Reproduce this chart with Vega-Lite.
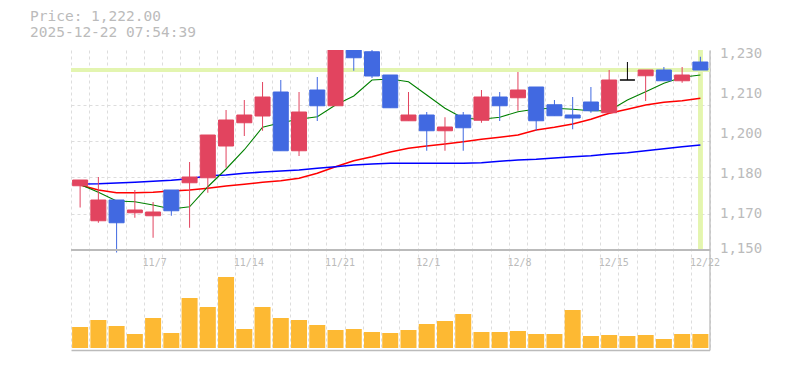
{
  "$schema": "https://vega.github.io/schema/vega-lite/v6.json",
  "width": 638.5,
  "height": 300,
  "autosize": "none",
  "padding": {"left": 71, "top": 50, "right": 75.5, "bottom": 20},
  "background": "white",
  "config": {"view": {"stroke": null}, "font": "DejaVu Sans Mono"},
  "title": {
    "text": "Price: 1,222.00",
    "subtitle": "2025-12-22 07:54:39",
    "anchor": "start",
    "frame": "group",
    "dx": -41,
    "offset": 6,
    "font": "DejaVu Sans Mono",
    "fontSize": 14.5,
    "fontWeight": "normal",
    "color": "#bbbbbb",
    "subtitleFont": "DejaVu Sans Mono",
    "subtitleFontSize": 14.5,
    "subtitleColor": "#bbbbbb",
    "subtitlePadding": 1
  },
  "data": {
    "values": [
      {"date": "2025-10-31", "open": 1175.7, "high": 1178.0, "low": 1167.0, "close": 1178.0, "volume": 42000, "ma5": 1176.2, "ma25": 1176.0, "ma75": 1176.4},
      {"date": "2025-11-04", "open": 1161.7, "high": 1179.2, "low": 1160.9, "close": 1170.0, "volume": 56000, "ma5": 1173.1, "ma25": 1174.0, "ma75": 1176.5},
      {"date": "2025-11-05", "open": 1170.0, "high": 1170.0, "low": 1149.0, "close": 1160.9, "volume": 44000, "ma5": 1169.6, "ma25": 1172.9, "ma75": 1176.8},
      {"date": "2025-11-06", "open": 1164.9, "high": 1174.0, "low": 1162.9, "close": 1166.0, "volume": 28000, "ma5": 1169.3, "ma25": 1172.9, "ma75": 1177.1},
      {"date": "2025-11-07", "open": 1163.7, "high": 1169.2, "low": 1154.9, "close": 1165.2, "volume": 60000, "ma5": 1168.0, "ma25": 1173.1, "ma75": 1177.5},
      {"date": "2025-11-10", "open": 1174.0, "high": 1174.0, "low": 1163.7, "close": 1165.7, "volume": 30000, "ma5": 1166.4, "ma25": 1173.6, "ma75": 1177.9},
      {"date": "2025-11-11", "open": 1176.9, "high": 1185.2, "low": 1158.9, "close": 1179.2, "volume": 100000, "ma5": 1167.3, "ma25": 1174.0, "ma75": 1178.5},
      {"date": "2025-11-12", "open": 1178.9, "high": 1196.0, "low": 1172.9, "close": 1196.0, "volume": 82000, "ma5": 1175.3, "ma25": 1174.7, "ma75": 1179.7},
      {"date": "2025-11-13", "open": 1191.6, "high": 1206.0, "low": 1182.9, "close": 1202.0, "volume": 142000, "ma5": 1182.4, "ma25": 1175.6, "ma75": 1180.0},
      {"date": "2025-11-14", "open": 1200.9, "high": 1210.0, "low": 1195.6, "close": 1204.0, "volume": 38000, "ma5": 1190.1, "ma25": 1176.3, "ma75": 1180.7},
      {"date": "2025-11-17", "open": 1203.6, "high": 1217.2, "low": 1197.7, "close": 1211.2, "volume": 82000, "ma5": 1199.1, "ma25": 1177.1, "ma75": 1181.2},
      {"date": "2025-11-18", "open": 1213.2, "high": 1218.0, "low": 1189.7, "close": 1189.7, "volume": 60000, "ma5": 1200.9, "ma25": 1177.7, "ma75": 1181.6},
      {"date": "2025-11-19", "open": 1189.7, "high": 1213.2, "low": 1187.6, "close": 1205.2, "volume": 56000, "ma5": 1202.3, "ma25": 1178.7, "ma75": 1182.0},
      {"date": "2025-11-20", "open": 1214.0, "high": 1219.2, "low": 1201.6, "close": 1207.7, "volume": 46000, "ma5": 1203.3, "ma25": 1180.7, "ma75": 1182.7},
      {"date": "2025-11-21", "open": 1207.7, "high": 1234.0, "low": 1207.7, "close": 1232.0, "volume": 36000, "ma5": 1208.0, "ma25": 1183.3, "ma75": 1183.3},
      {"date": "2025-11-25", "open": 1232.0, "high": 1234.0, "low": 1221.7, "close": 1226.9, "volume": 38000, "ma5": 1211.6, "ma25": 1185.7, "ma75": 1184.0},
      {"date": "2025-11-26", "open": 1229.3, "high": 1231.0, "low": 1218.8, "close": 1219.6, "volume": 32000, "ma5": 1218.0, "ma25": 1187.3, "ma75": 1184.4},
      {"date": "2025-11-27", "open": 1220.0, "high": 1220.0, "low": 1206.9, "close": 1206.9, "volume": 30000, "ma5": 1218.4, "ma25": 1189.2, "ma75": 1184.7},
      {"date": "2025-11-28", "open": 1201.7, "high": 1213.2, "low": 1201.7, "close": 1204.0, "volume": 36000, "ma5": 1217.3, "ma25": 1190.7, "ma75": 1184.7},
      {"date": "2025-12-01", "open": 1204.0, "high": 1205.2, "low": 1189.7, "close": 1197.7, "volume": 48000, "ma5": 1212.0, "ma25": 1191.6, "ma75": 1184.7},
      {"date": "2025-12-02", "open": 1197.7, "high": 1203.1, "low": 1189.7, "close": 1199.2, "volume": 54000, "ma5": 1206.7, "ma25": 1192.4, "ma75": 1184.7},
      {"date": "2025-12-03", "open": 1204.0, "high": 1205.2, "low": 1189.7, "close": 1198.9, "volume": 68000, "ma5": 1202.7, "ma25": 1193.3, "ma75": 1184.7},
      {"date": "2025-12-04", "open": 1201.9, "high": 1214.0, "low": 1200.9, "close": 1211.2, "volume": 32000, "ma5": 1202.3, "ma25": 1194.3, "ma75": 1184.9},
      {"date": "2025-12-05", "open": 1211.2, "high": 1213.2, "low": 1201.6, "close": 1207.7, "volume": 32000, "ma5": 1203.1, "ma25": 1195.1, "ma75": 1185.5},
      {"date": "2025-12-08", "open": 1210.9, "high": 1221.2, "low": 1205.7, "close": 1214.0, "volume": 34000, "ma5": 1205.3, "ma25": 1196.0, "ma75": 1186.0},
      {"date": "2025-12-09", "open": 1215.2, "high": 1215.2, "low": 1197.7, "close": 1201.7, "volume": 28000, "ma5": 1206.4, "ma25": 1198.0, "ma75": 1186.3},
      {"date": "2025-12-10", "open": 1208.1, "high": 1210.0, "low": 1203.7, "close": 1203.7, "volume": 28000, "ma5": 1206.7, "ma25": 1199.1, "ma75": 1186.8},
      {"date": "2025-12-11", "open": 1204.0, "high": 1211.2, "low": 1198.3, "close": 1202.8, "volume": 76000, "ma5": 1206.3, "ma25": 1200.4, "ma75": 1187.3},
      {"date": "2025-12-12", "open": 1209.2, "high": 1215.2, "low": 1204.9, "close": 1205.7, "volume": 24000, "ma5": 1205.7, "ma25": 1202.3, "ma75": 1187.7},
      {"date": "2025-12-15", "open": 1204.9, "high": 1222.0, "low": 1204.9, "close": 1218.0, "volume": 26000, "ma5": 1205.7, "ma25": 1204.7, "ma75": 1188.4},
      {"date": "2025-12-16", "open": 1218.0, "high": 1225.2, "low": 1218.0, "close": 1218.0, "volume": 24000, "ma5": 1210.0, "ma25": 1206.3, "ma75": 1188.9},
      {"date": "2025-12-17", "open": 1219.7, "high": 1222.0, "low": 1209.6, "close": 1222.0, "volume": 26000, "ma5": 1213.3, "ma25": 1208.0, "ma75": 1189.7},
      {"date": "2025-12-18", "open": 1222.0, "high": 1223.2, "low": 1217.7, "close": 1217.7, "volume": 18000, "ma5": 1216.7, "ma25": 1209.1, "ma75": 1190.5},
      {"date": "2025-12-19", "open": 1217.7, "high": 1223.2, "low": 1216.9, "close": 1220.0, "volume": 28000, "ma5": 1219.1, "ma25": 1209.7, "ma75": 1191.3},
      {"date": "2025-12-22", "open": 1225.2, "high": 1227.3, "low": 1222.0, "close": 1222.0, "volume": 28000, "ma5": 1220.0, "ma25": 1210.7, "ma75": 1192.0}
    ]
  },
  "resolve": {"scale": {"y": "independent"}},
  "layer": [
    {
      "layer": [
        {
          "mark": {"type": "rule", "color": "#e3f5b0", "strokeWidth": 3.5},
          "encoding": {
            "y": {
              "datum": 1222,
              "type": "quantitative",
              "scale": {"domain": [1110, 1230], "nice": false, "zero": false},
              "axis": {
                "title": null,
                "orient": "left",
                "values": [1150, 1157.2727, 1164.5455, 1171.8182, 1179.0909, 1186.3636, 1193.6364, 1200.9091, 1208.1818, 1215.4545, 1222.7273, 1230],
                "grid": true,
                "gridColor": "#dddddd",
                "gridDash": [3, 3],
                "gridWidth": 1,
                "labels": false,
                "ticks": false,
                "domain": false
              }
            }
          }
        },
        {
          "mark": {"type": "rule", "color": "#e3f5b0", "strokeWidth": 3.5},
          "encoding": {
            "x": {"datum": "2025-12-22", "type": "ordinal"},
            "y": {"datum": 1230, "type": "quantitative"},
            "y2": {"datum": 1150}
          }
        }
      ]
    },
    {
      "layer": [
        {
          "mark": {"type": "line", "color": "#ff0000", "strokeWidth": 1.6, "clip": true},
          "encoding": {
            "x": {"field": "date", "type": "ordinal"},
            "y": {"field": "ma25", "type": "quantitative"}
          }
        },
        {
          "mark": {"type": "line", "color": "#0000ff", "strokeWidth": 1.6, "clip": true},
          "encoding": {
            "x": {"field": "date", "type": "ordinal"},
            "y": {"field": "ma75", "type": "quantitative"}
          }
        },
        {
          "mark": {"type": "line", "color": "#008000", "strokeWidth": 1.1, "clip": true},
          "encoding": {
            "x": {"field": "date", "type": "ordinal"},
            "y": {"field": "ma5", "type": "quantitative"}
          }
        },
        {
          "mark": {"type": "rule", "strokeWidth": 1, "clip": true},
          "encoding": {
            "x": {
              "field": "date",
              "type": "ordinal",
              "scale": {"paddingInner": 0, "paddingOuter": 0},
              "axis": {
                "title": null,
                "orient": "bottom",
                "ticks": false,
                "tickBand": "extent",
                "grid": true,
                "gridColor": "#dddddd",
                "gridDash": [3, 3],
                "gridWidth": 1,
                "domain": true,
                "domainColor": "#bbbbbb",
                "domainWidth": 1.3,
                "labelAngle": 0,
                "labelAlign": "left",
                "labelOffset": -11,
                "labelBaseline": "alphabetic",
                "labelPadding": -85,
                "labelFont": "DejaVu Sans Mono",
                "labelFontSize": 10,
                "labelColor": "#bbbbbb",
                "labelOverlap": false,
                "labelExpr": "indexof(['2025-11-07','2025-11-14','2025-11-21','2025-12-01','2025-12-08','2025-12-15','2025-12-22'], datum.value) >= 0 ? toNumber(substring(datum.value,5,7)) + '/' + toNumber(substring(datum.value,8,10)) : ''"
              }
            },
            "y": {
              "field": "low",
              "type": "quantitative",
              "scale": {"domain": [1110, 1230], "nice": false, "zero": false},
              "axis": {
                "title": null,
                "orient": "right",
                "values": [1150, 1166, 1182, 1198, 1214, 1230],
                "ticks": false,
                "grid": false,
                "domain": true,
                "domainColor": "#bbbbbb",
                "domainWidth": 1.3,
                "labelPadding": 10,
                "labelFont": "DejaVu Sans Mono",
                "labelFontSize": 14,
                "labelColor": "#bbbbbb",
                "labelOverlap": false,
                "labelBaseline": "middle",
                "labelOffset": {"condition": {"test": "datum.value == 1150", "value": -2}, "value": 3},
                "labelExpr": "format(round(datum.value / 10) * 10, ',')"
              }
            },
            "y2": {"field": "high"},
            "color": {
              "condition": [
                {"test": "datum.close > datum.open", "value": "#e2445f"},
                {"test": "datum.close < datum.open", "value": "#4169e1"}
              ],
              "value": "#000000"
            }
          }
        },
        {
          "mark": {"type": "bar", "width": {"band": 0.822}, "strokeWidth": 1, "clip": true},
          "encoding": {
            "x": {"field": "date", "type": "ordinal"},
            "y": {"field": "open", "type": "quantitative"},
            "y2": {"field": "close"},
            "fill": {
              "condition": [
                {"test": "datum.close > datum.open", "value": "#e2445f"},
                {"test": "datum.close < datum.open", "value": "#4169e1"}
              ],
              "value": "#000000"
            },
            "stroke": {
              "condition": [
                {"test": "datum.close > datum.open", "value": "#e2445f"},
                {"test": "datum.close < datum.open", "value": "#4169e1"}
              ],
              "value": "#000000"
            }
          }
        }
      ]
    },
    {
      "mark": {"type": "bar", "color": "#fdb933", "width": {"band": 0.877}},
      "encoding": {
        "x": {"field": "date", "type": "ordinal"},
        "y": {"field": "volume", "type": "quantitative", "scale": {"domain": [-4000, 596000], "nice": false, "zero": false}, "axis": null}
      }
    },
    {
      "mark": {"type": "rule", "color": "#bbbbbb", "strokeWidth": 1.3},
      "encoding": {"y": {"datum": 1150, "type": "quantitative", "scale": {"domain": [1110, 1230], "nice": false, "zero": false}, "axis": null}}
    }
  ]
}
